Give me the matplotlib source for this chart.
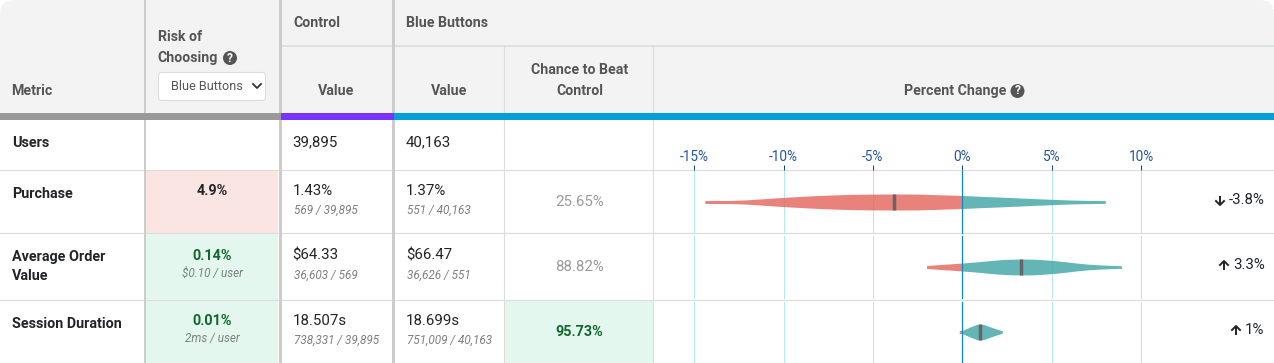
import matplotlib
matplotlib.use("Agg")
import numpy as np
import matplotlib.pyplot as plt
from matplotlib.patches import Rectangle, FancyBboxPatch, Circle

W = 1274
H = 363

metricas = ["Users", "Purchase", "Average Order\nValue", "Session Duration"]
riesgo = ["", "4.9%", "0.14%", "0.01%"]
riesgo_sub = ["", "", "$0.10 / user", "2ms / user"]
control_val = ["39,895", "1.43%", "$64.33", "18.507s"]
control_sub = ["", "569 / 39,895", "36,603 / 569", "738,331 / 39,895"]
azul_val = ["40,163", "1.37%", "$66.47", "18.699s"]
azul_sub = ["", "551 / 40,163", "36,626 / 551", "751,009 / 40,163"]
chance = ["", "25.65%", "88.82%", "95.73%"]
cambio = ["", "-3.8%", "3.3%", "1%"]
sube = [None, False, True, True]

ticks = [-15, -10, -5, 0, 5, 10]
tick_labels = ["-15%", "-10%", "-5%", "0%", "5%", "10%"]

# violines: posicion en % y medio ancho en px
medias = [-3.8, 3.3, 1.0]
v1_x = [-14.4, -13.0, -12.0, -11.0, -10.0, -9.0, -8.0, -7.0, -6.0, -5.0, -3.8, -2.5, -1.5, 0.0, 1.0, 2.0, 3.0, 4.0, 5.0, 6.0, 7.0, 8.0]
v1_h = [1.5, 1.5, 2.2, 3.4, 4.6, 5.6, 6.5, 7.2, 7.7, 7.9, 8.0, 7.9, 7.4, 6.5, 5.7, 5.0, 4.2, 3.4, 2.7, 2.0, 1.6, 1.4]
v2_x = [-2.0, -1.2, -0.6, 0.0, 0.6, 1.2, 1.8, 2.4, 3.3, 4.0, 4.6, 5.2, 5.8, 6.4, 7.0, 7.6, 8.2, 8.9]
v2_h = [1.5, 2.5, 3.2, 4.0, 4.8, 5.8, 6.8, 7.6, 8.0, 7.8, 7.2, 6.3, 5.2, 3.9, 2.9, 2.2, 1.7, 1.3]
v3_x = [-0.17, 0.0, 0.2, 0.5, 0.8, 1.0, 1.2, 1.5, 1.8, 2.05, 2.24]
v3_h = [1.4, 1.6, 3.2, 5.5, 7.5, 8.0, 7.5, 5.6, 3.7, 2.2, 1.2]
violines = [(v1_x, v1_h), (v2_x, v2_h), (v3_x, v3_h)]

TXT = "#212529"
HEAD = "#555555"
SUB = "#7f7f7f"
ROJO = "#E46C63"
TEAL = "#49A9A9"


def Texto(ax, x, y, s, size=10.8, color=TXT, weight="normal", ha="left", style="normal", ls=1.42):
    ax.text(x - 0.5, y + 0.7, s, fontsize=size, color=color, fontweight=weight, ha=ha, va="center",
            fontstyle=style, linespacing=ls, family=["Roboto", "DejaVu Sans"], zorder=6)


def Ayuda(ax, x, y):
    ax.add_patch(Circle((x, y), 7, color="#555555", lw=0, zorder=6))
    Texto(ax, x + 0.5, y - 0.7, "?", size=8.5, color="white", weight="bold", ha="center")


def Flecha(ax, x, y, arriba):
    # flecha dibujada: asta y punta
    s = -1 if arriba else 1
    ax.plot([x, x], [y - s * 4.5, y + s * 4.5], color=TXT, lw=1.4, zorder=6, solid_capstyle="butt")
    ax.plot([x - 4, x, x + 4], [y + s * 0.5, y + s * 4.5, y + s * 0.5], color=TXT, lw=1.4, zorder=6)


def Fondo(ax):
    ax.add_patch(FancyBboxPatch((0, 0), W, 140, boxstyle="round,pad=0,rounding_size=14",
                                fc="#F3F3F3", ec="none", zorder=1))
    ax.add_patch(Rectangle((0, 120), W, H - 120, fc="white", ec="none", zorder=1))
    ax.add_patch(Rectangle((146, 171), 132, 62, fc="#FAE5E3", ec="none", zorder=1))
    ax.add_patch(Rectangle((146, 234), 132, 129, fc="#E3F7EF", ec="none", zorder=1))
    ax.add_patch(Rectangle((505, 301), 148, 62, fc="#E3F7EF", ec="none", zorder=1))

    # lineas horizontales
    for y in [170, 233, 300]:
        ax.plot([0, W], [y, y], color="#DDDDDD", lw=0.85, zorder=2)
    ax.plot([281, W], [46, 46], color="#DEE1E3", lw=1.44, zorder=2)

    # lineas verticales
    for x in [504, 653]:
        ax.plot([x, x], [46, H], color="#DDDDDD", lw=0.8, zorder=2)
    ax.plot([145, 145], [0, H], color="#CCCCCC", lw=1.44, zorder=3)
    ax.plot([279.5, 279.5], [0, H], color="#CCCCCC", lw=2.16, zorder=3)
    ax.plot([392.5, 392.5], [0, H], color="#CCCCCC", lw=2.16, zorder=3)

    # barras gruesas
    ax.add_patch(Rectangle((0, 113), 281, 7, fc="#999999", ec="none", zorder=4))
    ax.add_patch(Rectangle((281, 113), 113, 7, fc="#7B33FF", ec="none", zorder=4))
    ax.add_patch(Rectangle((394, 113), W - 394, 7, fc="#059FD5", ec="none", zorder=4))


def Encabezado(ax):
    Texto(ax, 12, 90, "Metric", size=10.2, color=HEAD, weight="bold")
    Texto(ax, 158, 36, "Risk of", size=10.2, color=HEAD, weight="bold")
    Texto(ax, 158, 57, "Choosing", size=10.2, color=HEAD, weight="bold")
    Ayuda(ax, 230, 58)
    ax.add_patch(FancyBboxPatch((158.5, 72.5), 107, 28, boxstyle="round,pad=0,rounding_size=3",
                                fc="white", ec="#DDDDDD", lw=0.8, zorder=5))
    Texto(ax, 171.5, 86, "Blue Buttons", size=9.1, color="#555555")
    ax.plot([253, 257, 261], [84, 88, 84], color="#333333", lw=1.3, zorder=6)
    Texto(ax, 293.5, 22, "Control", size=10.2, color=HEAD, weight="bold")
    Texto(ax, 337, 90, "Value", size=10.2, color=HEAD, weight="bold", ha="center")
    Texto(ax, 407, 22, "Blue Buttons", size=10.2, color=HEAD, weight="bold")
    Texto(ax, 450, 90, "Value", size=10.2, color=HEAD, weight="bold", ha="center")
    Texto(ax, 580, 69, "Chance to Beat", size=10.2, color=HEAD, weight="bold", ha="center")
    Texto(ax, 580, 90, "Control", size=10.2, color=HEAD, weight="bold", ha="center")
    Texto(ax, 955.5, 90, "Percent Change", size=10.2, color=HEAD, weight="bold", ha="center")
    Ayuda(ax, 1017.5, 91)


def Filas(ax):
    y_met = [142, 193, 266, 323]
    y_val = [141.5, 190, 255, 320]
    y_sub = [0, 210, 275, 340]
    y_cen = [142, 201, 266, 331]
    x_fl = [0, 1220, 1224, 1236]
    col_riesgo = ["", "#212529", "#13662E", "#13662E"]
    for i in range(4):
        Texto(ax, 12.5, y_met[i], metricas[i], size=10.4, weight="bold")
        if riesgo[i]:
            Texto(ax, 212.5, y_val[i], riesgo[i], size=10.4, weight="bold", color=col_riesgo[i], ha="center")
        if riesgo_sub[i]:
            Texto(ax, 212.5, y_sub[i] - 2, riesgo_sub[i], size=8.5, color=SUB, style="italic", ha="center")
        Texto(ax, 293, y_val[i], control_val[i])
        Texto(ax, 406.5, y_val[i], azul_val[i])
        if control_sub[i]:
            Texto(ax, 294.5, y_sub[i], control_sub[i], size=8.5, color=SUB, style="italic")
            Texto(ax, 407.5, y_sub[i], azul_sub[i], size=8.5, color=SUB, style="italic")
        if chance[i]:
            if i == 3:
                Texto(ax, 580, y_cen[i], chance[i], size=10.4, weight="bold", color="#13662E", ha="center")
            else:
                Texto(ax, 580, y_cen[i], chance[i], color="#9A9A9A", ha="center")
        if cambio[i]:
            Texto(ax, 1265, y_cen[i] - 2, cambio[i], ha="right")
            Flecha(ax, x_fl[i], y_cen[i] - 0.5, sube[i])


def Violines(fig):
    # 17.88 px por cada 1%, el cero en x=962.3
    ax = fig.add_axes([654 / W, 0, (W - 654) / W, (H - 170) / H])
    ax.patch.set_alpha(0)
    ax.set_xlim((654 - 962.3) / 17.88, (W - 962.3) / 17.88)
    ax.set_ylim(H, 170)
    for s in ax.spines.values():
        s.set_visible(False)
    ax.set_yticks([])
    ax.xaxis.tick_top()
    ax.set_xticks(ticks)
    ax.set_xticklabels(tick_labels, fontsize=9.8, color="#22559F", family="Roboto")
    ax.tick_params(axis="x", length=3.6, width=0.72, color="#10428C", pad=0.6)

    tramos = [(171, 233), (236, 298), (302, 363)]
    for t in ticks:
        for a, b in tramos:
            if t == 0:
                continue
            ax.plot([t, t], [a, b], color="#B4E8F2", lw=0.75, zorder=1)

    centros = [202, 267, 332]
    for i in range(3):
        x = np.array(violines[i][0])
        h = np.array(violines[i][1])
        c = centros[i]
        ax.fill_between(x[x <= 0], c - h[x <= 0], c + h[x <= 0], color=ROJO, alpha=0.85, lw=0, zorder=2)
        ax.fill_between(x[x >= 0], c - h[x >= 0], c + h[x >= 0], color=TEAL, alpha=0.85, lw=0, zorder=2)
        ax.plot([medias[i], medias[i]], [c - 8, c + 8], color="#666666", lw=2.5, solid_capstyle="butt", zorder=3)

    for a, b in tramos:
        ax.plot([0, 0], [a, b], color="#0A88C8", lw=0.9, zorder=4)


def main():
    fig = plt.figure(figsize=(W / 100, H / 100), dpi=100)
    ax = fig.add_axes([0, 0, 1, 1])
    ax.set_xlim(0, W)
    ax.set_ylim(H, 0)
    ax.axis("off")
    Fondo(ax)
    Encabezado(ax)
    Filas(ax)
    Violines(fig)
    fig.savefig("out.png", dpi=100, facecolor="white")


if __name__ == "__main__":
    main()
